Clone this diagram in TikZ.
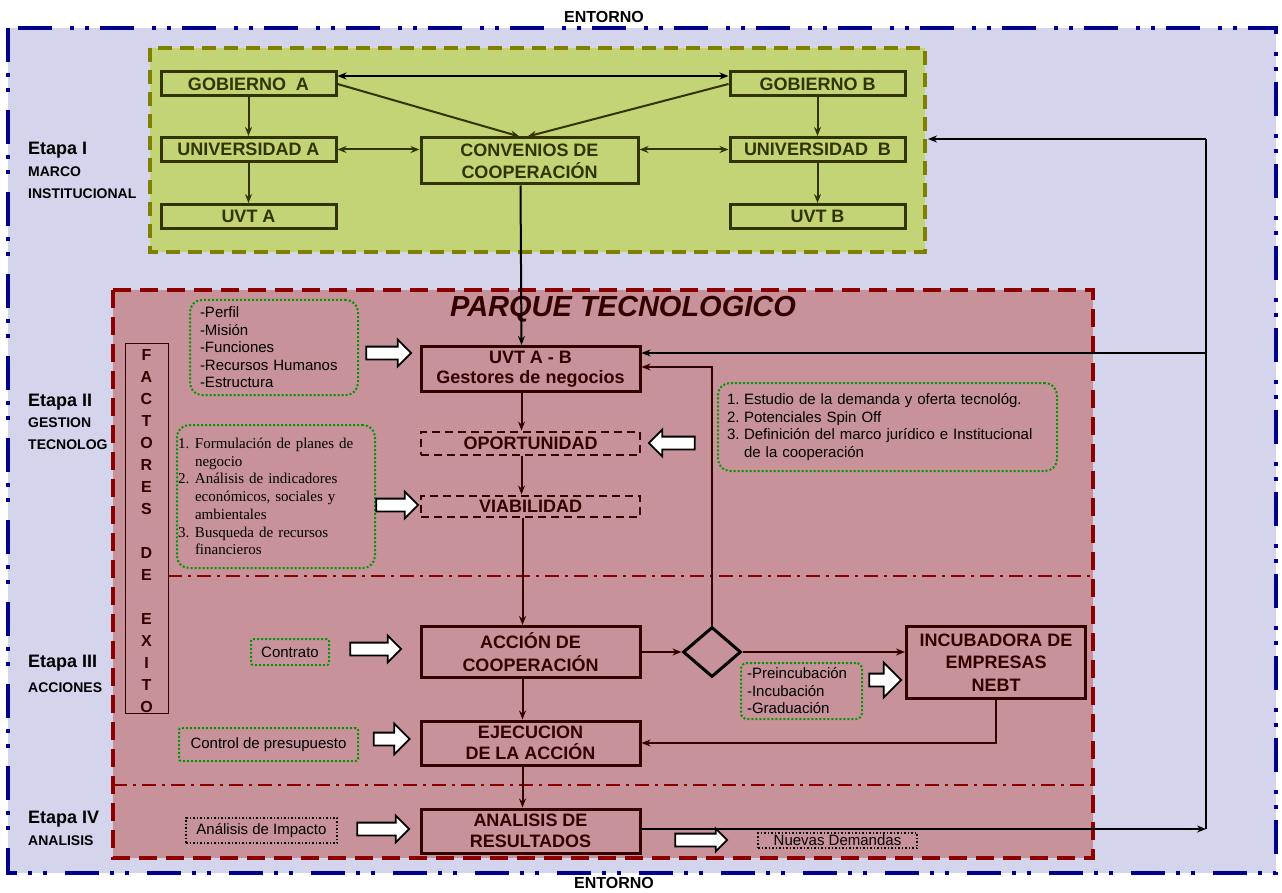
\documentclass[tikz,border=0pt]{standalone}
\usepackage{fontspec}
\setmainfont{Liberation Sans}
\newfontfamily\serifo{Liberation Serif}
\usetikzlibrary{shapes.geometric,shapes.arrows,arrows.meta}

\definecolor{azulent}{RGB}{0,0,140}
\definecolor{fondoazul}{RGB}{212,212,236}
\definecolor{oliveborde}{RGB}{128,128,0}
\definecolor{olivefondo}{RGB}{194,212,118}
\definecolor{oliveosc}{RGB}{51,51,0}
\definecolor{rojoborde}{RGB}{140,0,0}
\definecolor{rojofondo}{RGB}{200,146,154}
\definecolor{granate}{RGB}{51,0,0}
\definecolor{verdepunto}{RGB}{0,150,0}

\tikzset{
    >={Stealth[length=9pt,width=7pt]},
    etapa/.style={font=\bfseries\fontsize{18}{20}\selectfont, anchor=west, inner sep=0pt},
    etapasub/.style={font=\bfseries\fontsize{14}{16}\selectfont, anchor=west, inner sep=0pt},
    entorno/.style={font=\bfseries\fontsize{16}{18}\selectfont},
    cajaI/.style={draw=oliveosc, line width=3pt, text=oliveosc, font=\bfseries\fontsize{18}{22}\selectfont, minimum width=175pt, minimum height=24pt, inner sep=0pt, align=center},
    cajaII/.style={draw=granate, line width=3pt, text=granate, font=\bfseries\fontsize{18}{22.5}\selectfont, minimum width=219pt, inner sep=0pt, align=center},
    cajadash/.style={cajaII, line width=2pt, dash pattern=on 8pt off 5pt},
    notaverde/.style={draw=verdepunto, line width=2pt, dotted, rounded corners=12pt, align=left, inner sep=0pt},
    notanegra/.style={draw=black, line width=1.5pt, dotted, inner sep=0pt},
    flecha/.style={single arrow, draw=black, fill=white, line width=1.8pt, inner xsep=0pt, inner ysep=5.5pt, single arrow head extend=7pt},
    conI/.style={->, line width=2pt, draw=oliveosc},
    flujo/.style={->, line width=2pt, draw=granate},
    retro/.style={->, line width=2pt, draw=black},
}

\begin{document}
\begin{tikzpicture}[x=1pt, y=-1pt, font=\fontsize{15}{17.5}\selectfont]
    \useasboundingbox (0,0) rectangle (1282,893);
    % marcos de fondo
    \draw[azulent, fill=fondoazul, line width=4pt, dash pattern=on 34pt off 11pt on 4pt off 11pt on 4pt off 18pt] (8,28) rectangle (1276,873);
    \node[entorno] (entsup) at (604,17) {ENTORNO};
    \node[entorno] (entinf) at (614,883) {ENTORNO};
    \draw[oliveborde, fill=olivefondo, line width=3.5pt, dash pattern=on 14pt off 8pt] (150,48) rectangle (925,252);
    \draw[rojoborde, fill=rojofondo, line width=4pt, dash pattern=on 18pt off 9pt] (113,290) rectangle (1093,858);
    \draw[rojoborde, line width=2.5pt, dash pattern=on 14pt off 6pt on 3pt off 6pt] (168,576) -- (1093,576);
    \draw[rojoborde, line width=2.5pt, dash pattern=on 14pt off 6pt on 3pt off 6pt] (113,785) -- (1093,785);

    % etapas
    \node[etapa] (e1) at (28,150) {Etapa I};
    \node[etapasub] (e1a) at (28,172) {MARCO};
    \node[etapasub] (e1b) at (28,194) {INSTITUCIONAL};
    \node[etapa] (e2) at (28,402) {Etapa II};
    \node[etapasub] (e2a) at (28,423) {GESTION};
    \node[etapasub] (e2b) at (28,445) {TECNOLOG};
    \node[etapa] (e3) at (28,663) {Etapa III};
    \node[etapasub] (e3a) at (28,688) {ACCIONES};
    \node[etapa] (e4) at (28,819) {Etapa IV};
    \node[etapasub] (e4a) at (28,841) {ANALISIS};

    % marco institucional
    \node[cajaI] (gobA) at (248.5,84) {GOBIERNO~~A};
    \node[cajaI] (univA) at (248.5,149.5) {UNIVERSIDAD A};
    \node[cajaI] (uvtA) at (248.5,216.5) {UVT A};
    \node[cajaI] (gobB) at (817.5,84) {GOBIERNO B};
    \node[cajaI] (univB) at (817.5,149.5) {UNIVERSIDAD~~B};
    \node[cajaI] (uvtB) at (817.5,216.5) {UVT B};
    \node[cajaI, minimum width=217pt, minimum height=46pt] (conv) at (529.5,161) {CONVENIOS DE\\COOPERACIÓN};

    \draw[retro, <->] ([yshift=8pt]gobA.east) -- ([yshift=8pt]gobB.west);
    \draw[conI] (gobA.east) -- ([xshift=-10pt]conv.north);
    \draw[conI] (gobB.west) -- ([xshift=-2pt]conv.north);
    \draw[conI] (gobA) -- (univA);
    \draw[conI] (univA) -- (uvtA);
    \draw[conI] (gobB) -- (univB);
    \draw[conI] (univB) -- (uvtB);
    \draw[conI, <->] (univA.east) -- (univA.east -| conv.west);
    \draw[conI, <->] (univB.west) -- (univB.west -| conv.east);

    % parque tecnologico
    \node[font=\bfseries\itshape\fontsize{29}{32}\selectfont, text=granate] (parque) at (623,309) {PARQUE TECNOLOGICO};
    \node[draw=granate, line width=1pt, minimum width=43pt, minimum height=370pt, inner sep=0pt] (factores) at (146.5,528) {};
    \foreach \l [count=\i] in {F,A,C,T,O,R,E,S,{},D,E,{},E,X,I,T,O}
        \node[font=\bfseries\fontsize{16}{18}\selectfont, text=granate] (fe\i) at (146.5,333+22*\i) {\l};

    \node[cajaII, minimum height=45pt, font=\bfseries\fontsize{18}{20}\selectfont] (uvtab) at (530.5,369) {UVT A - B\\Gestores de negocios};
    \node[cajadash, minimum height=23pt] (oport) at (530.5,443) {OPORTUNIDAD};
    \node[cajadash, minimum height=21pt] (viab) at (530.5,506) {VIABILIDAD};
    \node[cajaII, minimum height=51pt] (accion) at (530.5,652) {ACCIÓN DE\\COOPERACIÓN};
    \node[cajaII, minimum height=44pt, font=\bfseries\fontsize{18}{21}\selectfont] (ejec) at (530.5,743) {EJECUCION\\DE LA ACCIÓN};
    \node[cajaII, minimum height=44pt, font=\bfseries\fontsize{18}{21}\selectfont] (anal) at (530.5,831) {ANALISIS DE\\RESULTADOS};
    \node[diamond, draw=black, line width=3pt, minimum width=58pt, minimum height=50pt, inner sep=0pt] (rombo) at (712,652) {};
    \node[cajaII, minimum width=179pt, minimum height=72pt] (incub) at (996,662.5) {INCUBADORA DE\\EMPRESAS\\NEBT};

    \draw[flujo, black] ([xshift=-9pt]conv.south) -- ([xshift=-9pt]uvtab.north);
    \draw[flujo] ([xshift=-9pt]uvtab.south) -- ([xshift=-9pt]oport.north);
    \draw[flujo] ([xshift=-9pt]oport.south) -- ([xshift=-9pt]viab.north);
    \draw[flujo] ([xshift=-8pt]viab.south) -- ([xshift=-8pt]accion.north);
    \draw[flujo] ([xshift=-8pt]accion.south) -- ([xshift=-8pt]ejec.north);
    \draw[flujo] ([xshift=-8pt]ejec.south) -- ([xshift=-8pt]anal.north);
    \draw[flujo] (accion.east) -- (rombo.west);
    \draw[flujo] (rombo.east) -- (rombo.east -| incub.west);
    \draw[flujo] (rombo.north) |- ([yshift=2pt]uvtab.east);
    \draw[flujo] (incub.south) |- (ejec.east);

    % retroalimentacion
    \coordinate (retro1) at (1206,829);
    \coordinate (retro2) at (1206,139);
    \coordinate (retro3) at (1206,353);
    \coordinate (marcoI) at (928,139);
    \draw[retro] (anal.east |- retro1) -- (retro1);
    \draw[line width=2pt] (retro1) -- (retro2);
    \draw[retro] (retro2) -- (marcoI);
    \draw[retro] (retro3) -- ([yshift=16pt]uvtab.east);

    % notas
    \node[notaverde, minimum width=168pt, minimum height=95pt, text width=148pt] (perfil) at (274,347.5) {-Perfil\\-Misión\\-Funciones\\-Recursos Humanos\\-Estructura};
    \node[notaverde, minimum width=198pt, minimum height=143pt, text width=196pt, font=\serifo\fontsize{15}{17.7}\selectfont] (planes) at (276,496.5) {\makebox[17pt][l]{1.}Formulación de planes de\\\hspace*{17pt}negocio\\\makebox[17pt][l]{2.}Análisis de indicadores\\\hspace*{17pt}económicos, sociales y\\\hspace*{17pt}ambientales\\\makebox[17pt][l]{3.}Busqueda de recursos\\\hspace*{17pt}financieros};
    \node[notaverde, minimum width=339pt, minimum height=88pt, text width=321pt] (estudio) at (887.5,427) {\makebox[17pt][l]{1.}Estudio de la demanda y oferta tecnológ.\\\makebox[17pt][l]{2.}Potenciales Spin Off\\\makebox[17pt][l]{3.}Definición del marco jurídico e Institucional\\\hspace*{17pt}de la cooperación};
    \node[notaverde, rounded corners=2pt, minimum width=78pt, minimum height=26pt] (contrato) at (290,652) {Contrato};
    \node[notaverde, rounded corners=2pt, minimum width=179pt, minimum height=33pt] (control) at (268.5,744.5) {Control de presupuesto};
    \node[notanegra, minimum width=151pt, minimum height=25pt] (impacto) at (261.5,830.5) {Análisis de Impacto};
    \node[notaverde, rounded corners=6pt, minimum width=121pt, minimum height=56pt, text width=109pt] (preinc) at (801.5,691) {-Preincubación\\-Incubación\\-Graduación};
    \node[notanegra, minimum width=159pt, minimum height=15pt] (nuevas) at (837.5,840.5) {Nuevas Demandas};

    % flechas gruesas
    \node[flecha, minimum height=45pt] (fperfil) at (385.5,353) {};
    \node[flecha, minimum height=42pt] (fplanes) at (394,505) {};
    \node[flecha, minimum height=46pt, shape border rotate=180] (festudio) at (675,443) {};
    \node[flecha, minimum height=51pt] (fcontrato) at (372.5,649) {};
    \node[flecha, minimum height=36pt, single arrow head extend=9pt] (fcontrol) at (388.5,739) {};
    \node[flecha, minimum height=52pt] (fimpacto) at (380,829) {};
    \node[flecha, minimum height=32pt, single arrow head extend=11pt] (fpreinc) at (882,680) {};
    \node[flecha, minimum height=52pt, single arrow head extend=5pt] (fnuevas) at (698,840) {};
\end{tikzpicture}
\end{document}
